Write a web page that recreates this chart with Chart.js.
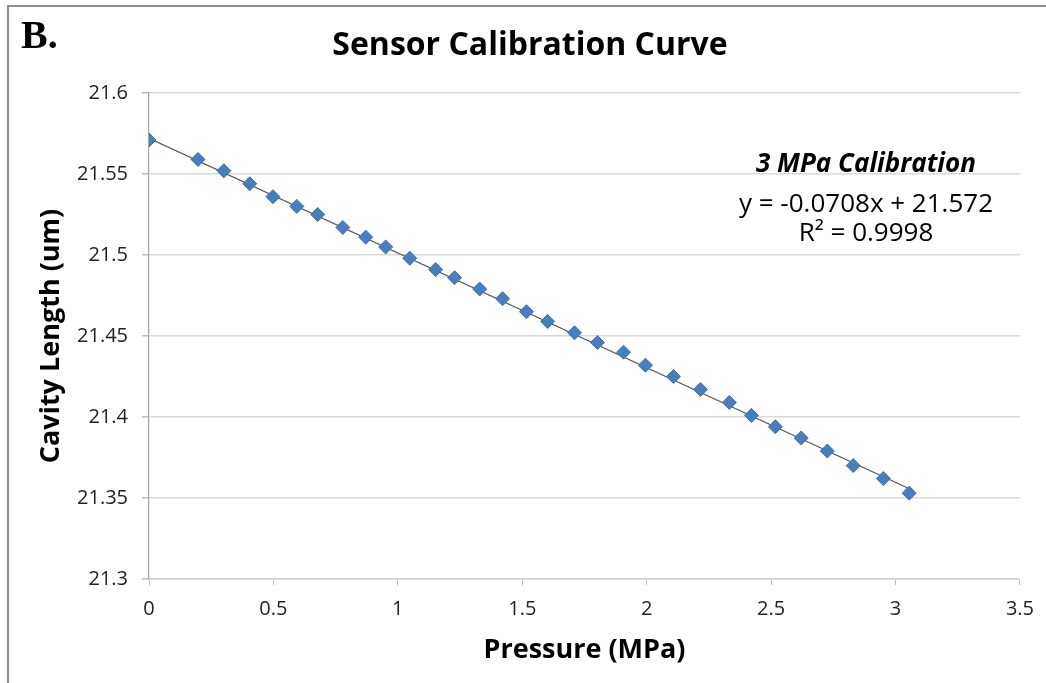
<!DOCTYPE html>
<html>
<head>
<meta charset="utf-8">
<script src="https://cdn.jsdelivr.net/npm/chart.js@4.4.1/dist/chart.umd.min.js"></script>
<style>
  html, body { margin: 0; padding: 0; background: #fff; }
  #wrap { width: 1046px; height: 683px; position: relative; }
</style>
</head>
<body>
<div id="wrap"><canvas id="calChart" width="1046" height="683"></canvas></div>
<script>
/* ==========================================
   Sensor Calibration Curve
========================================== */

// measured points (pressure MPa, cavity length um)
const pressure = [
    0, 0.197, 0.301, 0.405, 0.498, 0.594, 0.678, 0.779, 0.871, 0.951,
    1.048, 1.152, 1.228, 1.329, 1.421, 1.517, 1.602, 1.710, 1.802, 1.907,
    1.995, 2.108, 2.216, 2.332, 2.421, 2.517, 2.621, 2.726, 2.830, 2.951,
    3.055
];

const cavityLength = [
    21.571, 21.559, 21.552, 21.544, 21.536, 21.530, 21.525, 21.517, 21.511, 21.505,
    21.498, 21.491, 21.486, 21.479, 21.473, 21.465, 21.459, 21.452, 21.446, 21.440,
    21.432, 21.425, 21.417, 21.409, 21.401, 21.394, 21.387, 21.379, 21.370, 21.362,
    21.353
];

// linear fit shown on the chart
const fitSlope = -0.0708;
const fitIntercept = 21.572;
const fitRange = [0, 3.06];

const xTicks = [0, 0.5, 1, 1.5, 2, 2.5, 3, 3.5];
const yTicks = [21.3, 21.35, 21.4, 21.45, 21.5, 21.55, 21.6];

const fitLabel = "3 MPa Calibration";
const fitText = ["y = -0.0708x + 21.572", "R² = 0.9998"];

const baseFont = "'Open Sans', Lato, sans-serif";

const scatterPoints = pressure.map((p, i) => ({ x: p, y: cavityLength[i] }));
const trendPoints = fitRange.map(x => ({ x: x, y: fitIntercept + fitSlope * x }));

// frame, panel letter, chart title and fit annotation
const decorPlugin = {
    id: "decor",
    beforeDraw(chart) {
        const c = chart.ctx;
        c.save();
        c.fillStyle = "#fff";
        c.fillRect(0, 0, chart.width, chart.height);
        c.strokeStyle = "#8c8c8c";
        c.lineWidth = 2;
        c.beginPath();
        c.moveTo(8, chart.height + 5);
        c.lineTo(8, 6);
        c.lineTo(chart.width + 5, 6);
        c.stroke();
        c.restore();
    },
    afterDraw(chart) {
        const c = chart.ctx;
        c.save();
        c.fillStyle = "#000";
        c.textBaseline = "alphabetic";

        c.textAlign = "left";
        c.font = "bold 40px 'Liberation Serif', 'Times New Roman', serif";
        c.fillText("B.", 21, 48);

        c.textAlign = "center";
        c.font = "bold 32px " + baseFont;
        c.fillText("Sensor Calibration Curve", 530, 55);

        const cx = 866;
        c.font = "italic bold 26px " + baseFont;
        c.fillText(fitLabel, cx, 172);
        c.font = "26px " + baseFont;
        c.fillText(fitText[0], cx, 212);
        c.fillText(fitText[1], cx, 241);
        c.restore();
    }
};

new Chart(document.getElementById("calChart"), {

    type: "scatter",

    data: {

        datasets: [
            {
                type: "line",
                label: "Linear fit",
                data: trendPoints,
                borderColor: "#555555",
                borderWidth: 1.2,
                pointRadius: 0,
                fill: false,
                order: 2
            },
            {
                label: "Calibration",
                data: scatterPoints,
                pointStyle: "rectRot",
                pointRadius: 7,
                pointBackgroundColor: "#4a7ebb",
                pointBorderColor: "#3f72b0",
                pointBorderWidth: 1,
                order: 1
            }
        ]

    },

    options: {

        responsive: false,
        animation: false,

        layout: {
            padding: { top: 93, right: 25, bottom: 0, left: 0 }
        },

        plugins: {
            legend: { display: false },
            tooltip: { enabled: false }
        },

        scales: {

            x: {
                type: "linear",
                min: 0,
                max: 3.5,
                afterBuildTicks: axis => { axis.ticks = xTicks.map(v => ({ value: v })); },
                afterFit: axis => { axis.height = 104; },
                ticks: {
                    callback: v => String(v),
                    color: "#222",
                    font: { family: baseFont, size: 20 },
                    padding: 12,
                    maxRotation: 0
                },
                grid: {
                    drawOnChartArea: false,
                    drawTicks: true,
                    tickLength: 6,
                    color: "#bdbdbd"
                },
                border: { color: "#d0d0d0", width: 1.5 },
                title: {
                    display: true,
                    text: "Pressure (MPa)",
                    color: "#000",
                    font: { family: baseFont, size: 27, weight: "bold" },
                    padding: { top: 0, bottom: 16 }
                }
            },

            y: {
                type: "linear",
                min: 21.3,
                max: 21.6,
                afterBuildTicks: axis => { axis.ticks = yTicks.map(v => ({ value: v })); },
                afterFit: axis => { axis.width = 149; },
                ticks: {
                    callback: v => String(+v.toFixed(2)),
                    color: "#222",
                    font: { family: baseFont, size: 20 },
                    padding: 14
                },
                grid: {
                    color: "#d9d9d9",
                    lineWidth: 1.5,
                    tickLength: 7,
                    tickColor: "#bdbdbd"
                },
                border: { color: "#a6a6a6", width: 1.2 },
                title: {
                    display: true,
                    text: "Cavity Length (um)",
                    color: "#000",
                    font: { family: baseFont, size: 27, weight: "bold" },
                    padding: { top: 35, bottom: 0 }
                }
            }

        }

    },

    plugins: [decorPlugin]

});
</script>
</body>
</html>
